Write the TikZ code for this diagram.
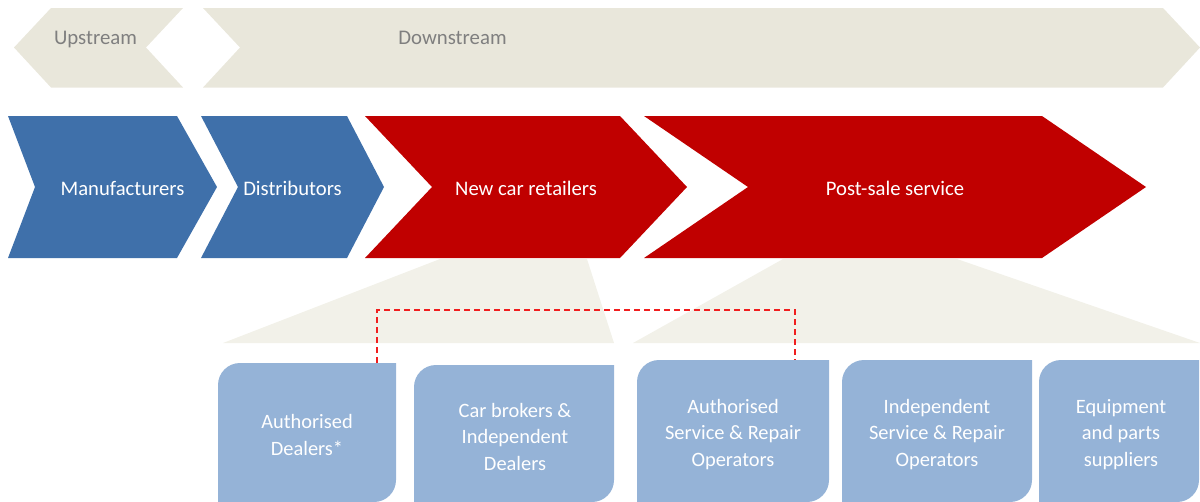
\documentclass[tikz,border=0pt]{standalone}
\usepackage{fontspec}
\setmainfont{Carlito}

\definecolor{streamgray}{RGB}{233,231,219}
\definecolor{fangray}{RGB}{242,241,233}
\definecolor{chainblue}{RGB}{63,112,170}
\definecolor{chainred}{RGB}{192,0,0}
\definecolor{boxblue}{RGB}{149,179,215}
\definecolor{labelgray}{RGB}{127,127,127}

\tikzset{every picture/.style={line width=0.75pt}}
\tikzset{
  streamlabel/.style={anchor=base,inner sep=0pt,text=labelgray,font=\fontsize{15.6}{18}\selectfont},
  chainlabel/.style={anchor=base,inner sep=0pt,text=white,font=\fontsize{15.5}{18}\selectfont},
  boxlabel/.style={anchor=base,inner sep=0pt,text=white,align=center,font=\fontsize{15.3}{19.8}\selectfont},
  dashlink/.style={draw={rgb,255:red,240;green,30;blue,30},line width=0.9pt,dash pattern=on 4.5pt off 3pt}
}

% tab box with rounded top left and bottom right corners
\newcommand{\tabbox}[4]{%
\fill [boxblue] (#1,#4) -- (#1,#2+22) arc [start angle=180,end angle=270,radius=22] -- (#3,#2) -- (#3,#4-22) arc [start angle=0,end angle=90,radius=22] -- cycle ;}

\begin{document}
\begin{tikzpicture}[x=0.75pt,y=0.75pt,yscale=-1,xscale=1]
\useasboundingbox (0,0) rectangle (1200,501);

%Shape: Chevron [id:upstream] 
\fill [streamgray] (14,47.5) -- (51,8) -- (183,8) -- (146,47.5) -- (183,87.5) -- (51,87.5) -- cycle ;
%Shape: Chevron [id:downstream] 
\fill [streamgray] (203,8) -- (1163,8) -- (1200,47.5) -- (1163,87.5) -- (203,87.5) -- (240,47.5) -- cycle ;

%Shape: Trapezoid [id:fanretail] 
\fill [fangray] (440,259) -- (587,259) -- (614,343) -- (223,343) -- cycle ;
%Shape: Trapezoid [id:fanservice] 
\fill [fangray] (783,259) -- (957,259) -- (1200,343) -- (633,343) -- cycle ;

%Shape: Chevron [id:manuf] 
\fill [chainblue] (8,116) -- (177,116) -- (217,187) -- (177,258) -- (8,258) -- (35,187) -- cycle ;
%Shape: Chevron [id:distrib] 
\fill [chainblue] (201,116) -- (347,116) -- (384,187) -- (347,258) -- (201,258) -- (238,187) -- cycle ;
%Shape: Chevron [id:retail] 
\fill [chainred] (365,116) -- (620,116) -- (687,187) -- (620,258) -- (365,258) -- (432,187) -- cycle ;
%Shape: Chevron [id:postsale] 
\fill [chainred] (644,116) -- (1042,116) -- (1146,187) -- (1042,258) -- (644,258) -- (748,187) -- cycle ;

%Shape: Tab Boxes 
\tabbox{218}{363}{396}{502}
\tabbox{414}{365}{614}{502}
\tabbox{637}{360}{829}{502}
\tabbox{842}{360}{1032}{502}
\tabbox{1039}{360}{1199}{502}

% Text Node
\node [streamlabel] (up) at (95.5,44.5) {Upstream};
% Text Node
\node [streamlabel] (down) at (452.5,44.5) {Downstream};
% Text Node
\node [chainlabel] (manuf) at (122.5,195) {Manufacturers};
% Text Node
\node [chainlabel] (distrib) at (292.5,195) {Distributors};
% Text Node
\node [chainlabel] (retail) at (526,195) {New car retailers};
% Text Node
\node [chainlabel] (postsale) at (895,195) {Post-sale service};

% Text Node
\node [boxlabel] (dealers) at (307,455) {Authorised\\Dealers*};
% Text Node
\node [boxlabel] (brokers) at (515,470) {Car brokers \&\\Independent\\Dealers};
% Text Node
\node [boxlabel] (authrep) at (733,466) {Authorised\\Service \& Repair\\Operators};
% Text Node
\node [boxlabel] (indrep) at (937,466) {Independent\\Service \& Repair\\Operators};
% Text Node
\node [boxlabel] (parts) at (1121,466) {Equipment\\and parts\\suppliers};

%Straight Lines [id:dealerlink] 
\coordinate (dealerstop) at (377,363);
\coordinate (authreptop) at (795,360);
\draw [dashlink] (dealerstop) -- ++(0,-53) -| (authreptop) ;

\end{tikzpicture}
\end{document}
